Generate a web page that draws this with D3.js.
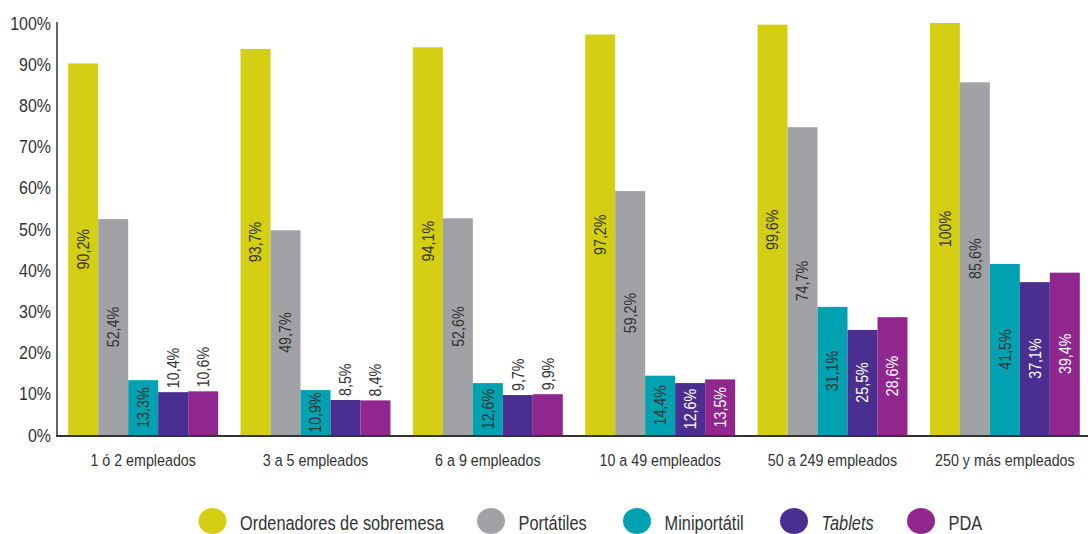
<!DOCTYPE html>
<html>
<head>
<meta charset="utf-8">
<script src="https://cdn.jsdelivr.net/npm/d3@7"></script>
<style>
  html, body { margin: 0; padding: 0; background: #fff; }
  svg { display: block; font-family: "Liberation Sans", Arial, sans-serif; }
</style>
</head>
<body>
<svg id="chart" width="1088" height="534"></svg>
<script>
// Company size bands
const categories = ["1 ó 2 empleados", "3 a 5 empleados", "6 a 9 empleados",
                    "10 a 49 empleados", "50 a 249 empleados", "250 y más empleados"];

// Device types and their colours
const seriesNames = ["Ordenadores de sobremesa", "Portátiles", "Miniportátil", "Tablets", "PDA"];
const seriesColors = ["#d4cf12", "#a1a2a6", "#00a1b1", "#4a2f91", "#8f278f"];

// Percentage of companies using each device, per size band
const sobremesa    = [90.2, 93.7, 94.1, 97.2, 99.6, 100];
const portatiles   = [52.4, 49.7, 52.6, 59.2, 74.7, 85.6];
const miniportatil = [13.3, 10.9, 12.6, 14.4, 31.1, 41.5];
const tablets      = [10.4, 8.5, 9.7, 12.6, 25.5, 37.1];
const pda          = [10.6, 8.4, 9.9, 13.5, 28.6, 39.4];
const seriesValues = [sobremesa, portatiles, miniportatil, tablets, pda];

// Y axis ticks
const yTicks = [0, 10, 20, 30, 40, 50, 60, 70, 80, 90, 100];

const svg = d3.select("#chart");
const axisColor = "#333";
const textColor = "#333";
const narrow = 0.84; // horizontal squeeze giving a condensed face

const x0 = d3.scaleBand().domain(categories).range([57, 1091]).paddingInner(0.13).paddingOuter(0.065);
const x1 = d3.scaleBand().domain(seriesNames).range([0, x0.bandwidth()]).padding(0);
const y = d3.scaleLinear().domain([0, 100]).range([435, 23]);

const fmt = v => (Number.isInteger(v) ? String(v) : v.toFixed(1).replace(".", ",")) + "%";

// Y tick labels
svg.append("g")
  .selectAll("text")
  .data(yTicks)
  .join("text")
  .attr("transform", d => `translate(51,${y(d)}) scale(${narrow},1)`)
  .attr("dy", "0.35em")
  .attr("text-anchor", "end")
  .attr("font-size", 19)
  .attr("fill", textColor)
  .text(d => d + "%");

// Bars
const groups = svg.append("g")
  .selectAll("g")
  .data(categories)
  .join("g")
  .attr("transform", d => `translate(${x0(d)},0)`);

const cells = groups.selectAll("g")
  .data((c, ci) => seriesNames.map((s, si) => ({ s, si, v: seriesValues[si][ci] })))
  .join("g");

cells.append("rect")
  .attr("x", d => x1(d.s))
  .attr("y", d => y(d.v))
  .attr("width", x1.bandwidth())
  .attr("height", d => y(0) - y(d.v))
  .attr("fill", d => seriesColors[d.si]);

// Rotated value labels: centred inside the bar when it fits, above it otherwise
const fits = d => y(0) - y(d.v) >= 44;
cells.append("text")
  .attr("transform", d => {
    const cx = x1(d.s) + x1.bandwidth() / 2;
    const cy = fits(d) ? (y(d.v) + y(0)) / 2 : y(d.v) - 4;
    return `translate(${cx},${cy}) rotate(-90) scale(${narrow},1)`;
  })
  .attr("text-anchor", d => (fits(d) ? "middle" : "start"))
  .attr("dy", "0.35em")
  .attr("font-size", 17)
  .attr("fill", d => (fits(d) && d.si >= 3 ? "#fff" : textColor))
  .text(d => fmt(d.v));

// Axis lines
svg.append("line")
  .attr("x1", 57).attr("x2", 57)
  .attr("y1", y(100) - 1).attr("y2", y(0) + 1)
  .attr("stroke", axisColor).attr("stroke-width", 1.5);
svg.append("line")
  .attr("x1", 56).attr("x2", 1088)
  .attr("y1", y(0) + 1).attr("y2", y(0) + 1)
  .attr("stroke", axisColor).attr("stroke-width", 2);

// Category labels
svg.append("g")
  .selectAll("text")
  .data(categories)
  .join("text")
  .attr("transform", d => `translate(${x0(d) + x0.bandwidth() / 2},460) scale(${narrow},1)`)
  .attr("dy", "0.35em")
  .attr("text-anchor", "middle")
  .attr("font-size", 17)
  .attr("fill", textColor)
  .text(d => d);

// Legend
const legendX = [212.5, 491, 637, 794, 921];
const legend = svg.append("g")
  .selectAll("g")
  .data(seriesNames)
  .join("g")
  .attr("transform", (d, i) => `translate(${legendX[i]},521)`);

legend.append("ellipse")
  .attr("rx", 14)
  .attr("ry", 13)
  .attr("fill", (d, i) => seriesColors[i]);

legend.append("text")
  .attr("transform", `translate(27.5,2) scale(${narrow},1)`)
  .attr("dy", "0.35em")
  .attr("font-size", 19.5)
  .attr("font-style", d => (d === "Tablets" ? "italic" : "normal"))
  .attr("fill", textColor)
  .text(d => d);
</script>
</body>
</html>
